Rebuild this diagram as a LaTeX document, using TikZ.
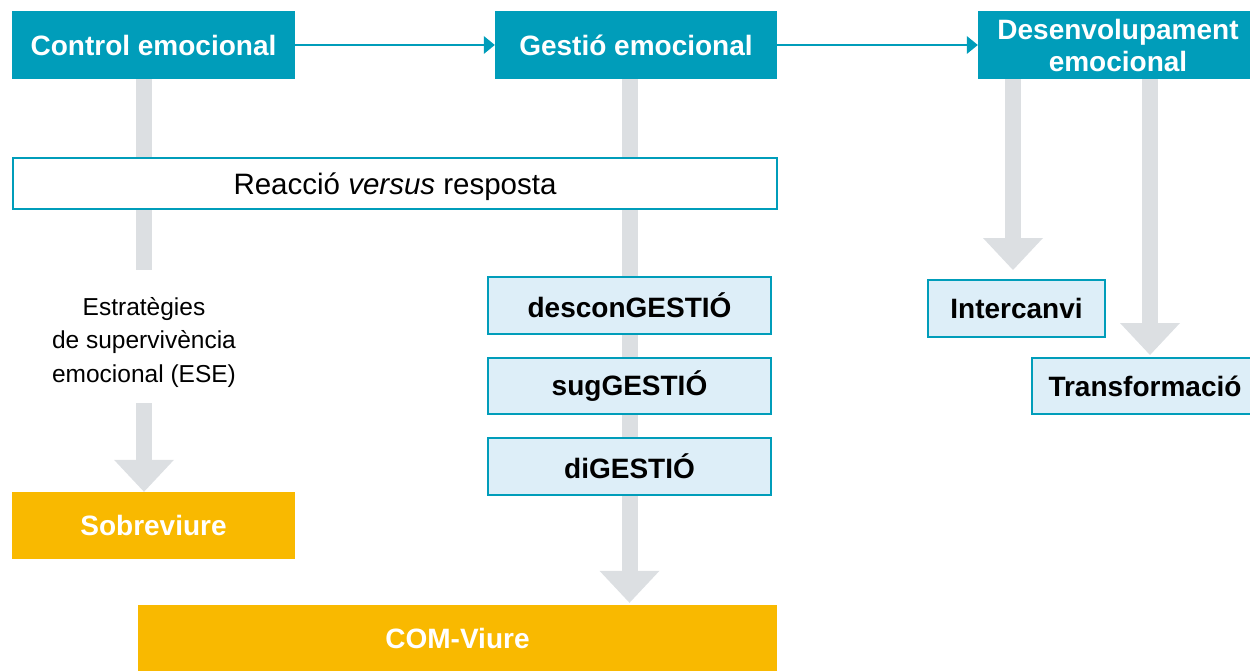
\documentclass[tikz,border=0pt]{standalone}
\usepackage{fontspec}
\setmainfont{Liberation Sans}
\usetikzlibrary{arrows.meta,backgrounds,calc}
\definecolor{tealc}{RGB}{0,157,186}
\definecolor{orangec}{RGB}{249,185,0}
\definecolor{grayc}{RGB}{220,223,226}
\definecolor{lightc}{RGB}{221,238,248}
\begin{document}
\begin{tikzpicture}[x=1pt,y=-1pt,
  bigtxt/.style={font=\fontsize{28}{32}\selectfont\bfseries},
  hdr/.style={bigtxt, fill=tealc, text=white, inner sep=0pt, align=center, minimum height=68pt},
  goal/.style={bigtxt, fill=orangec, text=white, inner sep=0pt, minimum height=67pt},
  stage/.style={bigtxt, fill=lightc, draw=tealc, line width=2pt, text=black, inner sep=0pt},
  pillar/.style={draw=grayc, line width=16pt},
  pillarhead/.style={pillar, -{Triangle[length=32pt,width=60pt,line width=0pt]}},
  conn/.style={draw=tealc, line width=2pt, -{Triangle[length=11pt,width=18pt,line width=0pt]}},
]
\useasboundingbox (0,0) rectangle (1250,671);

\node[hdr, minimum width=283pt] (ctrl) at (153.5,45) {Control emocional};
\node[hdr, minimum width=282pt] (gest) at (636,45) {Gestió emocional};
\node[hdr, minimum width=280pt] (dev) at (1118,45) {Desenvolupament\\emocional};

\node[draw=tealc, fill=white, line width=2pt, minimum width=764pt, minimum height=51pt,
      inner sep=0pt, text height=25pt, text depth=3pt,
      font=\fontsize{29.5}{32}\selectfont] (reac) at (395,183.5)
      {Reacció \textit{versus} resposta};

\node[align=center, minimum height=133pt, inner sep=0pt,
      font=\fontsize{24.5}{33.5}\selectfont] (ese) at (144,342.5)
      {Estratègies\\de supervivència\\emocional (ESE)};

\node[goal, minimum width=283pt] (sobre) at (153.5,525.5) {Sobreviure};
\node[goal, minimum width=639pt, minimum height=66pt] (com) at (457.5,638) {COM-Viure};

\node[stage, minimum width=283pt, minimum height=57pt] (descon) at (629.5,305.5) {desconGESTIÓ};
\node[stage, minimum width=283pt, minimum height=56pt] (sug) at (629.5,386) {sugGESTIÓ};
\node[stage, minimum width=283pt, minimum height=57pt] (dig) at (629.5,466.5) {diGESTIÓ};

\node[stage, minimum width=177pt, minimum height=57pt] (interc) at (1016.5,308.5) {Intercanvi};
\node[stage, minimum width=226pt, minimum height=56pt] (transf) at (1145,386) {Transformació};

\draw[conn] (ctrl.east) -- (gest.west);
\draw[conn] (gest.east) -- (dev.west);

\begin{scope}[on background layer]
  \draw[pillar, shorten >=6pt] (ese.north |- ctrl.south) -- (ese.north);
  \draw[pillarhead, shorten <=-6pt] (ese.south) -- (ese.south |- sobre.north);
  \draw[pillarhead] (descon.north |- gest.south) -- ([yshift=2pt]descon.north |- com.north);
  \draw[pillarhead] ([xshift=-3.5pt]interc.north |- dev.south) -- ([xshift=-3.5pt,yshift=9pt]interc.north);
  \draw[pillarhead] ([xshift=5pt]transf.north |- dev.south) -- ([xshift=5pt,yshift=2pt]transf.north);
\end{scope}
\end{tikzpicture}
\end{document}
